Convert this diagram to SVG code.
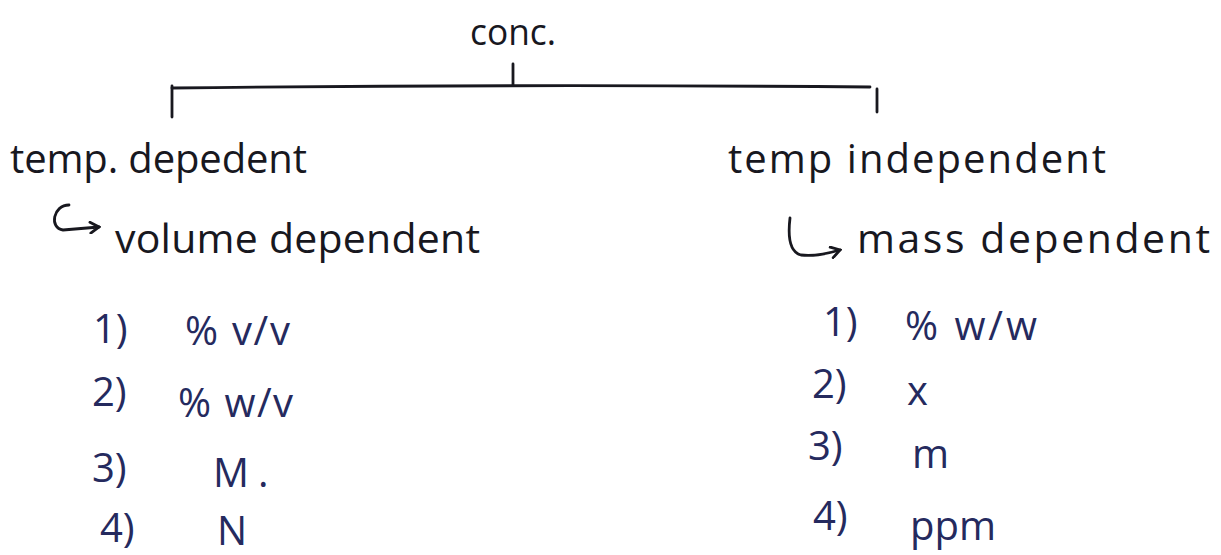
<svg xmlns="http://www.w3.org/2000/svg" width="1221" height="555" viewBox="0 0 1221 555">
  <style>
    .ink { font-family: "Open Sans", "Liberation Sans", sans-serif; fill: #18181f; }
    .blue { font-family: "Open Sans", "Liberation Sans", sans-serif; fill: #252a5e; }
    .head { font-size: 40px; }
    .sub { font-size: 41px; }
    .item { font-size: 40px; }
    .stroke { fill: none; stroke: #18181f; stroke-width: 2.8; stroke-linecap: round; stroke-linejoin: round; }
  </style>
  <defs>
    <marker id="hook" viewBox="0 0 12 12" refX="10" refY="6" markerWidth="13" markerHeight="13" markerUnits="userSpaceOnUse" orient="auto">
      <path d="M2,1 L10,6 L2,11" fill="none" stroke="#18181f" stroke-width="2.6" stroke-linecap="round"/>
    </marker>
  </defs>
  <rect width="1221" height="555" fill="#ffffff"/>

  <!-- bracket and hook arrows -->
  <g id="connectors" class="stroke">
    <path d="M513,64 L513,85"/>
    <path d="M172,88 Q520,84 870,87"/>
    <path d="M172,86 L172,117"/>
    <path d="M877,89 L877,112"/>
    <path d="M69,205 C53,205 49,228 63,230 L99,227" marker-end="url(#hook)"/>
    <path d="M790,218 Q786,251 801,255 Q816,257 840,250" marker-end="url(#hook)"/>
  </g>

  <g id="root">
    <text class="ink" x="470" y="45" font-size="36" textLength="86" lengthAdjust="spacingAndGlyphs">conc.</text>
  </g>

  <g id="temp-dependent">
    <text class="ink head" x="10" y="173" textLength="297" lengthAdjust="spacing">temp. depedent</text>
    <text class="ink sub" x="115" y="253" textLength="365" lengthAdjust="spacing">volume dependent</text>
  </g>

  <g id="temp-independent">
    <text class="ink head" x="728" y="173" textLength="378" lengthAdjust="spacing">temp independent</text>
    <text class="ink sub" x="857" y="253" textLength="353" lengthAdjust="spacing">mass dependent</text>
  </g>

  <g id="volume-list">
    <text class="blue item" x="93" y="343">1)</text>
    <text class="blue item" x="185" y="345" textLength="105" lengthAdjust="spacing">% v/v</text>
    <text class="blue item" x="92" y="406">2)</text>
    <text class="blue item" x="178" y="417" textLength="115" lengthAdjust="spacing">% w/v</text>
    <text class="blue item" x="92" y="482">3)</text>
    <text class="blue item" x="213" y="487">M</text>
    <text class="blue item" x="258" y="487">.</text>
    <text class="blue item" x="100" y="542">4)</text>
    <text class="blue item" x="217" y="545">N</text>
  </g>

  <g id="mass-list">
    <text class="blue item" x="823" y="336">1)</text>
    <text class="blue item" x="905" y="340" textLength="132" lengthAdjust="spacing">% w/w</text>
    <text class="blue item" x="812" y="398">2)</text>
    <text class="blue item" x="907" y="405">x</text>
    <text class="blue item" x="808" y="460">3)</text>
    <text class="blue item" x="912" y="468">m</text>
    <text class="blue item" x="813" y="530">4)</text>
    <text class="blue item" x="910" y="540">ppm</text>
  </g>
</svg>
